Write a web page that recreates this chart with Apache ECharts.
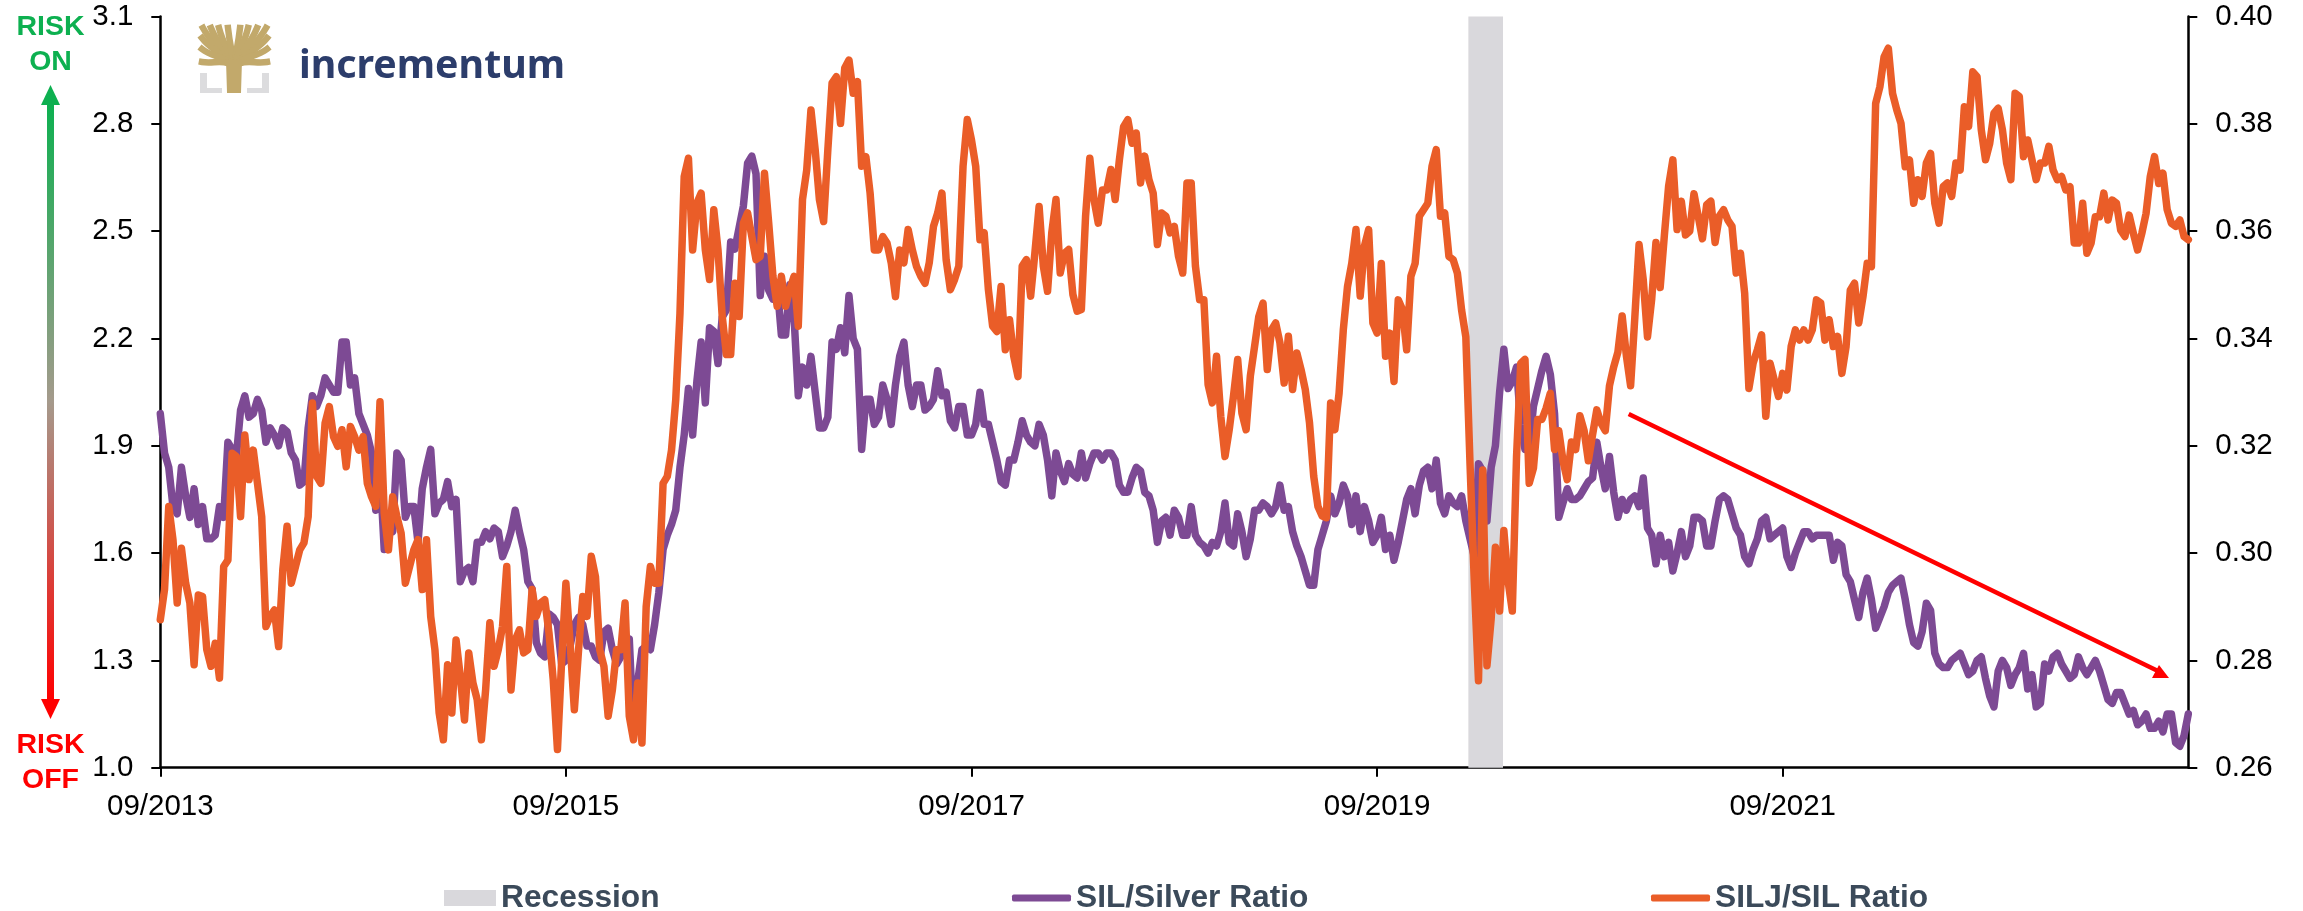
<!DOCTYPE html>
<html><head><meta charset="utf-8"><style>html,body{margin:0;padding:0;background:#fff}#c{width:2303px;height:911px}</style>
<script src="https://cdn.jsdelivr.net/npm/echarts@6/dist/echarts.min.js"></script></head>
<body><div id="c"></div>
<script>
const xTickMonths=[0,24,48,72,96];
const xTickLabels=['09/2013','09/2015','09/2017','09/2019','09/2021'];
const leftTicks=[1.0,1.3,1.6,1.9,2.2,2.5,2.8,3.1];
const rightTicks=[0.26,0.28,0.30,0.32,0.34,0.36,0.38,0.40];
const recessionMonths=[77.4,79.45];
// readings at the start and the middle of each half-month step, 09/2013 onward
const silSilver=[1.99,1.84,1.71,1.76,1.78,1.73,1.64,1.73,1.91,1.87,2.04,1.99,2.00,1.95,1.90,1.94,1.86,1.80,2.04,2.04,2.07,2.05,2.19,2.09,1.96,1.88,1.83,1.67,1.88,1.70,1.73,1.78,
1.89,1.74,1.80,1.75,1.55,1.52,1.63,1.64,1.66,1.62,1.72,1.61,1.50,1.32,1.43,1.40,1.30,1.40,1.40,1.34,1.30,1.39,1.29,1.36,1.10,1.33,1.33,1.49,1.65,1.72,
1.93,1.93,2.19,2.23,2.13,2.28,2.45,2.57,2.71,2.32,2.335,2.35,2.21,2.26,2.12,2.15,1.95,1.98,2.17,2.16,2.20,1.89,2.03,1.98,2.03,2.07,2.19,2.01,2.07,2.01,2.11,
2.05,1.95,2.01,1.93,2.05,1.96,1.86,1.79,1.86,1.97,1.91,1.96,1.86,1.88,1.80,1.82,1.88,1.85,1.88,1.88,1.86,1.77,1.81,1.83,1.76,1.63,1.70,1.72,1.65,1.73,1.63,
1.60,1.62,1.74,1.62,1.66,1.64,1.72,1.73,1.73,1.72,1.66,1.59,1.51,1.61,1.69,1.71,1.79,1.68,1.66,1.69,1.65,1.61,1.58,1.69,1.78,1.79,1.84,1.86,1.71,1.74,
1.76,1.64,1.85,1.69,1.90,2.17,2.08,1.96,1.89,2.06,2.15,1.99,1.74,1.75,1.76,1.80,1.91,1.78,1.77,1.75,1.75,1.73,1.67,1.57,1.59,1.55,1.66,1.62,1.70,1.62,1.69,
1.76,1.71,1.65,1.57,1.64,1.70,1.65,1.67,1.56,1.63,1.66,1.65,1.65,1.58,1.62,1.52,1.42,1.53,1.39,1.45,1.51,1.53,1.40,1.34,1.46,1.32,1.28,1.30,1.32,1.26,1.30,1.25,1.17,1.30,1.23,1.28,1.22,1.17,1.29,1.31,1.29,1.25,1.31,1.26,1.30,1.23,1.18,1.21,1.15,1.12,1.15,1.11,1.10,1.15,1.06,1.15];
const silSilverMid=[1.88,1.73,1.84,1.70,1.68,1.64,1.65,1.70,1.89,2.00,1.98,2.03,1.91,1.93,1.95,1.88,1.79,1.95,2.01,2.09,2.05,2.19,2.07,1.99,1.93,1.72,1.61,1.66,1.86,1.73,1.63,1.84,
1.71,1.75,1.73,1.52,1.56,1.63,1.66,1.67,1.59,1.66,1.66,1.52,1.35,1.31,1.42,1.29,1.34,1.42,1.34,1.31,1.38,1.33,1.31,1.36,1.24,1.34,1.40,1.61,1.68,1.84,
2.06,2.08,2.02,2.22,2.26,2.47,2.51,2.69,2.66,2.43,2.31,2.21,2.35,2.04,2.07,2.05,1.95,2.19,2.23,2.32,2.17,2.03,1.96,2.07,1.96,2.15,2.07,2.07,2.00,2.03,2.04,
1.97,2.01,1.93,1.96,1.96,1.91,1.80,1.86,1.91,1.93,1.90,1.93,1.76,1.83,1.85,1.81,1.81,1.88,1.86,1.88,1.79,1.77,1.84,1.77,1.72,1.69,1.65,1.70,1.65,1.65,1.62,
1.63,1.66,1.63,1.71,1.59,1.72,1.74,1.71,1.79,1.73,1.62,1.55,1.51,1.65,1.76,1.74,1.76,1.76,1.73,1.63,1.70,1.65,1.63,1.75,1.71,1.83,1.78,1.74,1.76,1.73,
1.69,1.59,1.83,1.84,2.05,2.06,2.12,1.89,2.01,2.11,2.10,1.70,1.78,1.75,1.78,1.81,1.84,1.87,1.70,1.72,1.76,1.81,1.65,1.65,1.63,1.60,1.59,1.70,1.69,1.62,1.75,
1.75,1.67,1.59,1.61,1.69,1.64,1.66,1.59,1.60,1.66,1.64,1.65,1.65,1.63,1.54,1.47,1.49,1.47,1.42,1.49,1.52,1.47,1.35,1.38,1.44,1.29,1.28,1.31,1.29,1.27,1.31,1.20,1.27,1.28,1.26,1.32,1.26,1.18,1.27,1.32,1.27,1.26,1.28,1.28,1.27,1.19,1.21,1.18,1.16,1.13,1.11,1.13,1.15,1.07,1.09];
const siljSil=[.2876,.3087,.2907,.2944,.2792,.2919,.2789,.2767,.2987,.318,.322,.3192,.3068,.2882,.2826,.305,.2975,.3019,.328,.313,.3273,.3199,.3161,.3217,.3217,.3105,.3282,.3006,.3068,.2944,.3006,.2932,
.2882,.2702,.2792,.2838,.2689,.2758,.2652,.287,.282,.2975,.2838,.2814,.2932,.2907,.2851,.2634,.2944,.2708,.2919,.2994,.282,.2696,.282,.2907,.2652,.2646,.2975,.2944,.3143,.3286,
.3702,.3565,.3671,.351,.3565,.337,.3503,.3615,.359,.3553,.3615,.346,.346,.3516,.3659,.3826,.3659,.3752,.3888,.3904,.3857,.3721,.3671,.3565,.3578,.3478,.3541,.3565,.3516,.3541,.3634,
.3547,.351,.3721,.377,.3584,.3491,.3413,.3379,.3367,.3535,.3479,.3646,.3488,.3659,.3559,.3482,.3454,.3736,.3615,.3677,.3659,.3795,.3764,.369,.3696,.3575,.3628,.3609,.3522,.369,.3472,
.3314,.3367,.318,.3292,.3261,.333,.3441,.3342,.3429,.3317,.3305,.3342,.3243,.3087,.3066,.323,.3416,.354,.3479,.3603,.341,.3367,.332,.3454,.3516,.3628,.3652,.3752,.3634,.3547,
.3453,.3165,.2762,.279,.3011,.3042,.2892,.3354,.313,.3249,.327,.3193,.3172,.3207,.3256,.3172,.3267,.3228,.3347,.3442,.3312,.3575,.3403,.3579,.3593,.3733,.3656,.36,.3628,.3649,.3579,
.364,.3609,.3559,.3307,.3379,.3255,.3323,.3335,.3385,.3397,.3397,.3472,.3397,.3385,.3335,.349,.3429,.354,.3838,.3925,.3857,.3801,.3733,.3696,.3727,.3652,.3683,.3665,.3714,.3795,.3888,
.3733,.382,.3789,.3696,.3851,.377,.3696,.3727,.3714,.3702,.3683,.3578,.3559,.3627,.3671,.3658,.3602,.363,.3565,.3633,.3739,.3708,.3615,.3621,.3584];
const siljSilMid=[.2932,.3025,.3009,.2907,.2922,.282,.2832,.2975,.3186,.3068,.3137,.313,.2863,.2894,.2969,.2944,.3006,.3068,.3143,.3242,.3217,.323,.3236,.3192,.313,.3087,.3074,.3105,.3037,.2975,.3025,.3025,
.282,.2652,.2702,.277,.2814,.2727,.2745,.2789,.2863,.2745,.2857,.282,.2882,.2913,.2764,.2801,.2832,.282,.2882,.2956,.2789,.2745,.282,.2696,.2758,.29,.2944,.313,.3192,.3447,
.3736,.3652,.3565,.364,.3441,.337,.3441,.3634,.3547,.3708,.3516,.3516,.3491,.3423,.3714,.3752,.3618,.3876,.3801,.3919,.3879,.3739,.3565,.359,.3541,.3565,.3603,.3534,.3503,.3609,.3671,
.3491,.3535,.3808,.3721,.3597,.3423,.3497,.3435,.3329,.3547,.3559,.3535,.3597,.3522,.3566,.3451,.3628,.3659,.3677,.3715,.3733,.3808,.3783,.374,.3671,.3634,.3597,.3553,.369,.3535,.3472,
.328,.3255,.323,.3361,.323,.3385,.3466,.3416,.3392,.3404,.3373,.3305,.3143,.3069,.328,.3298,.3497,.3603,.3572,.3429,.354,.341,.3472,.3379,.354,.364,.3721,.3628,.3553,.3522,
.3403,.2948,.3155,.2878,.2892,.2948,.3179,.3361,.3158,.3249,.3298,.3228,.3137,.3193,.3228,.3221,.3242,.3312,.3375,.3368,.3439,.3509,.3474,.3495,.3684,.3603,.3593,.367,.3586,.3656,.3628,
.3621,.3522,.3484,.3354,.3407,.3354,.3292,.3304,.3416,.3416,.3416,.3466,.3435,.3404,.3385,.3503,.3478,.3534,.3869,.3941,.3826,.372,.3652,.3665,.3745,.3615,.369,.3727,.3832,.3897,.3789,
.3764,.3829,.3727,.3857,.3739,.3733,.3727,.3758,.3696,.3677,.3578,.3652,.3578,.3627,.3621,.3652,.359,.3596,.3596,.3702,.3689,.364,.3609,.359];

const PURPLE='#7D4A94',ORANGE='#EA5D28',GREY='#D9D8DC',LEGEND='#3B4A5A',GOLD='#C2A96B',BRACKET='#DCDCDE',NAVY='#2C3D6B',GREEN='#0DB050',RED='#FF0000';
const FONT='"Liberation Sans",Arial,sans-serif';
const weave=(a,b)=>{const out=[];a.forEach((v,i)=>{out.push([i/2,v]);if(i<b.length)out.push([i/2+.25,b[i]]);});return out;};

const branchEnds=[[203,28],[211,28],[219,28],[228,28],[240,28],[248,28],[257,28],[266,28],[202,38],[202,49],[202,62],[267,38],[267,49],[267,62]];
const tree=branchEnds.map(e=>({type:'bezierCurve',z:20,shape:{x1:234,y1:74,x2:e[0],y2:e[1],cpx1:234,cpy1:56,cpx2:e[0]+(234-e[0])*.4,cpy2:e[1]+(66-e[1])*.6},style:{stroke:GOLD,fill:null,lineWidth:6.5,lineCap:'square'}}));
const polyg=(pts,fill)=>({type:'polygon',z:20,shape:{points:pts},style:{fill}});
const txt=(t,x,y,size,color,weight,family)=>({type:'text',z:20,x,y,style:{text:t,fill:color,font:`${weight} ${size}px ${family||FONT}`,textAlign:'center',textVerticalAlign:'middle'}});

const graphic=[...tree,
 polyg([[226,60],[242,60],[241,93],[227,93]],GOLD),
 polyg([[200,73],[207,73],[207,88],[222,88],[222,93],[200,93]],BRACKET),
 polyg([[269,73],[262,73],[262,88],[247,88],[247,93],[269,93]],BRACKET),
 {type:'text',z:20,x:299,y:86,style:{text:'incrementum',fill:NAVY,font:'700 39.3px "Noto Sans",sans-serif',textAlign:'left',textVerticalAlign:'bottom'}},
 txt('RISK',50.5,27,28.5,GREEN,'bold'),txt('ON',50.5,62,28.5,GREEN,'bold'),
 txt('RISK',50.5,745,28.5,RED,'bold'),txt('OFF',50.5,780,28.5,RED,'bold'),
 polyg([[50.5,85],[60,105],[41,105]],GREEN),
 polyg([[50.5,719],[60,699],[41,699]],RED),
 {type:'rect',z:20,shape:{x:47,y:104,width:7,height:596},style:{fill:{type:'linear',x:0,y:0,x2:0,y2:1,colorStops:[{offset:0,color:GREEN},{offset:.5,color:'#A59A8C'},{offset:1,color:RED}]}}},
 {type:'line',z:20,shape:{x1:1628.7,y1:414,x2:2160,y2:672},style:{stroke:RED,lineWidth:4.5}},
 polyg([[2159,665],[2152,678],[2169,678]],RED)
];

const axisFont={fontFamily:FONT,fontSize:29.5,color:'#000'};
const line={color:'#000',width:2.5};
const legend=(name,left,w,h)=>({data:[{name,icon:name==='Recession'?'rect':'roundRect'}],left,top:882,itemWidth:w,itemHeight:h,selectedMode:false,padding:0,textStyle:{fontFamily:FONT,fontWeight:'bold',fontSize:31.7,color:LEGEND}});

echarts.init(document.getElementById('c'),null,{renderer:'canvas'}).setOption({
 animation:false,backgroundColor:'#fff',
 grid:{left:160.3,right:114.7,top:16.6,bottom:143.3,containLabel:false},
 legend:[legend('Recession',444,52,16),legend('SIL/Silver Ratio',1012,59,7),legend('SILJ/SIL Ratio',1651,59,7)],
 xAxis:{type:'value',min:0,max:120,splitLine:{show:false},
  axisLine:{onZero:false,lineStyle:line},
  axisTick:{length:9,lineStyle:{color:'#000',width:2},customValues:xTickMonths},
  axisLabel:{fontFamily:FONT,fontSize:29.5,color:'#000',margin:24,customValues:xTickMonths,formatter:v=>xTickLabels[xTickMonths.indexOf(v)]||''}},
 yAxis:[
  {type:'value',min:1,max:3.1,position:'left',splitLine:{show:false},
   axisLine:{show:true,onZero:false,lineStyle:line},
   axisTick:{show:true,length:9,lineStyle:{color:'#000',width:2},customValues:leftTicks},
   axisLabel:{...axisFont,margin:27,customValues:leftTicks,formatter:v=>v.toFixed(1)}},
  {type:'value',min:.26,max:.40,position:'right',splitLine:{show:false},
   axisLine:{show:true,onZero:false,lineStyle:line},
   axisTick:{show:true,length:9,lineStyle:{color:'#000',width:2},customValues:rightTicks},
   axisLabel:{...axisFont,margin:27,customValues:rightTicks,formatter:v=>v.toFixed(2)}}],
 series:[
  {name:'Recession',type:'line',z:1,data:[],itemStyle:{color:GREY},
   markArea:{silent:true,itemStyle:{color:GREY,opacity:1},data:[[{xAxis:recessionMonths[0]},{xAxis:recessionMonths[1]}]]}},
  {name:'SIL/Silver Ratio',type:'line',z:3,yAxisIndex:0,data:weave(silSilver,silSilverMid),showSymbol:false,clip:false,
   itemStyle:{color:PURPLE},lineStyle:{color:PURPLE,width:7.5,join:'round',cap:'round'}},
  {name:'SILJ/SIL Ratio',type:'line',z:4,yAxisIndex:1,data:weave(siljSil,siljSilMid),showSymbol:false,clip:false,
   itemStyle:{color:ORANGE},lineStyle:{color:ORANGE,width:7.5,join:'round',cap:'round'}}
 ],
 graphic
});
</script></body></html>
